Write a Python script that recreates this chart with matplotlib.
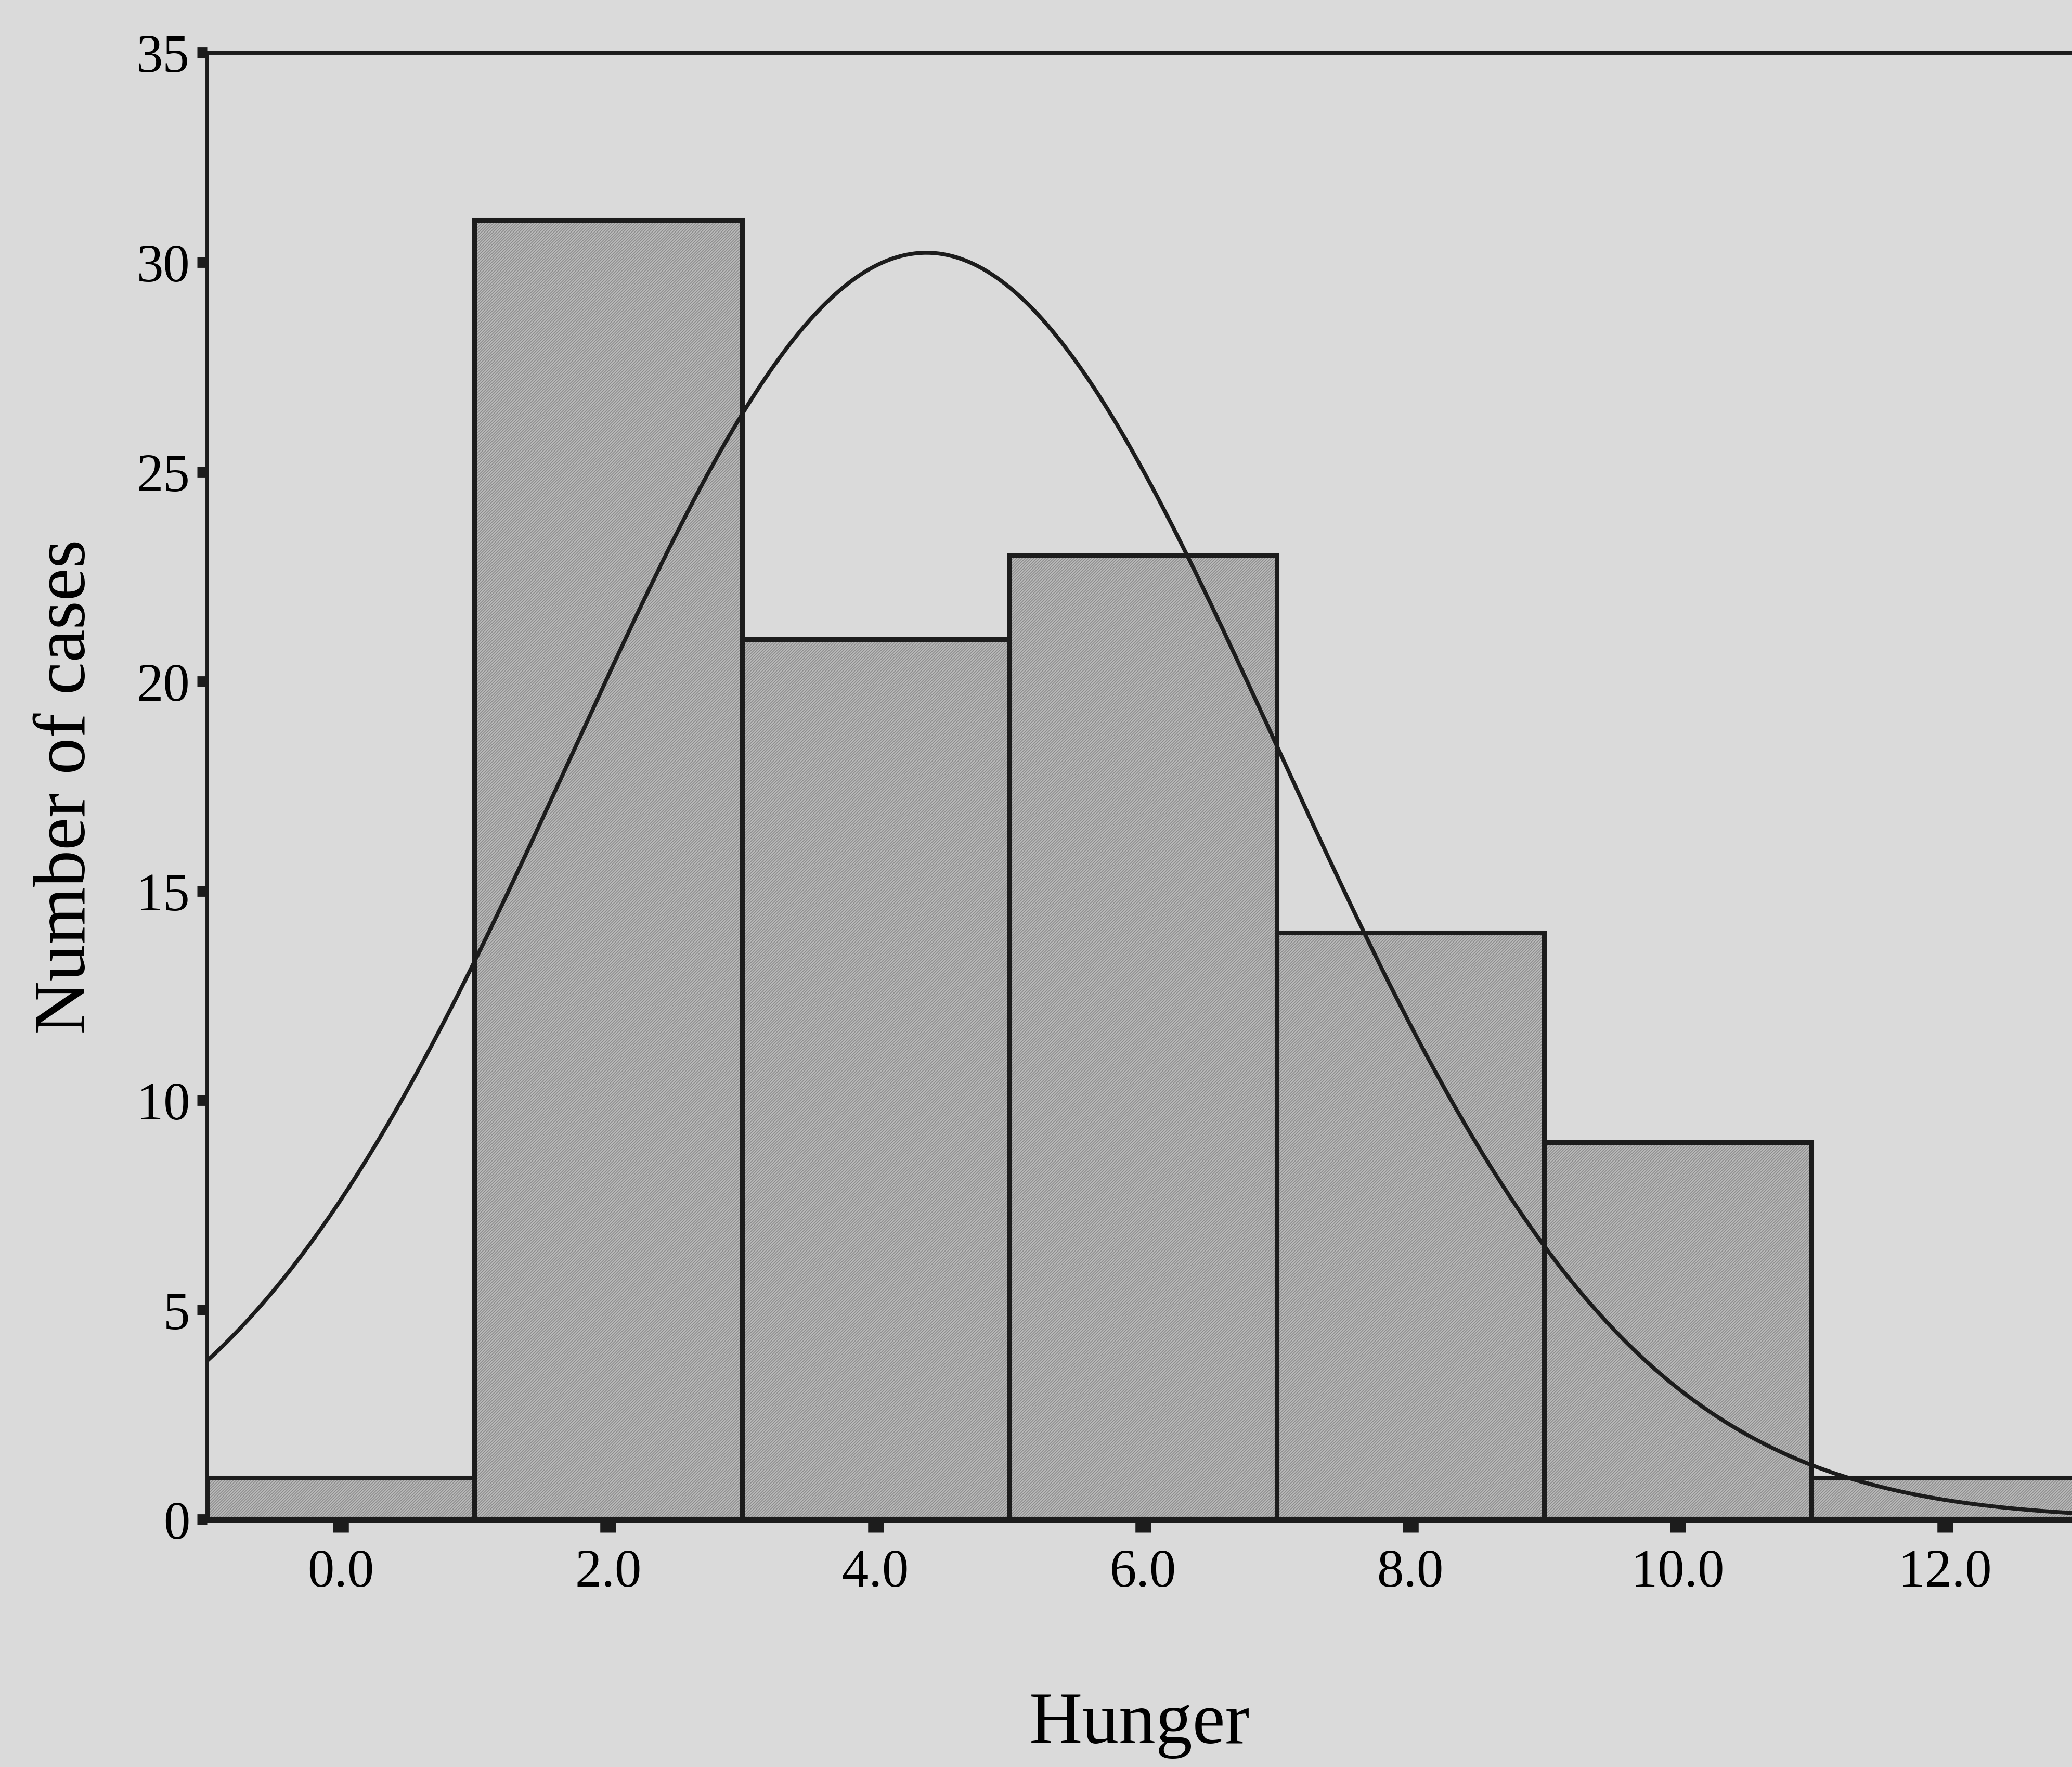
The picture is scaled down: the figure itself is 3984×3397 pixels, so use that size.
import numpy as np
import matplotlib
matplotlib.use("Agg")
import matplotlib.pyplot as plt

# histogram of hunger ratings (bin edges step 2) with fitted normal curve
bin_edges = [-1, 1, 3, 5, 7, 9, 11, 13]
counts = [1, 31, 21, 23, 14, 9, 1]
x_ticks = [0, 2, 4, 6, 8, 10, 12]
x_tick_labels = ["0.0", "2.0", "4.0", "6.0", "8.0", "10.0", "12.0"]
y_ticks = [0, 5, 10, 15, 20, 25, 30, 35]

# normal curve parameters (from the raw scores)
mean_hunger = 4.38
sd_hunger = 2.64
n_cases = 100

plt.rcParams['font.family'] = ['Liberation Serif', 'DejaVu Serif']
plt.rcParams['hatch.linewidth'] = 1.2

bg = '#dadada'
ink = '#1c1c1c'
fig = plt.figure(figsize=(39.84, 33.98), dpi=100, facecolor=bg)
ax = fig.add_axes([0.100, 0.140, 0.900, 0.830], facecolor=bg)

lefts = np.array(bin_edges[:-1])
widths = np.diff(bin_edges)

# textured fill first, then the black outlines on top
ax.bar(lefts, counts, width=widths, align='edge', color='#bababa',
       edgecolor='#8c8c8c', hatch='//////', linewidth=0, zorder=2)
ax.bar(lefts, counts, width=widths, align='edge', facecolor='none',
       edgecolor=ink, linewidth=6.5, zorder=3)

xs = np.linspace(bin_edges[0], bin_edges[-1], 400)
bin_width = widths[0]
curve = n_cases * bin_width / (sd_hunger * np.sqrt(2 * np.pi)) * \
    np.exp(-0.5 * ((xs - mean_hunger) / sd_hunger) ** 2)
ax.plot(xs, curve, color=ink, linewidth=5.5, zorder=4)

# right end runs off the page, as on the printed chart
ax.set_xlim(-1, 12.95)
ax.set_ylim(0, 35)

for side in ['left', 'top', 'bottom']:
    ax.spines[side].set_color(ink)
ax.spines['left'].set_linewidth(5)
ax.spines['top'].set_linewidth(5)
ax.spines['bottom'].set_linewidth(8)
ax.spines['right'].set_visible(False)

ax.set_xticks(x_ticks)
ax.set_xticklabels(x_tick_labels)
ax.set_yticks(y_ticks)

ax.tick_params(axis='y', direction='out', length=14, width=15, pad=10,
               labelsize=74, color=ink)
ax.tick_params(axis='x', direction='out', length=18, width=22, pad=22,
               labelsize=74, color=ink)

ax.set_xlabel('Hunger', fontsize=102, labelpad=130)
ax.set_ylabel('Number of cases', fontsize=102, labelpad=50)

fig.savefig('out.png', dpi=100, facecolor=bg)
